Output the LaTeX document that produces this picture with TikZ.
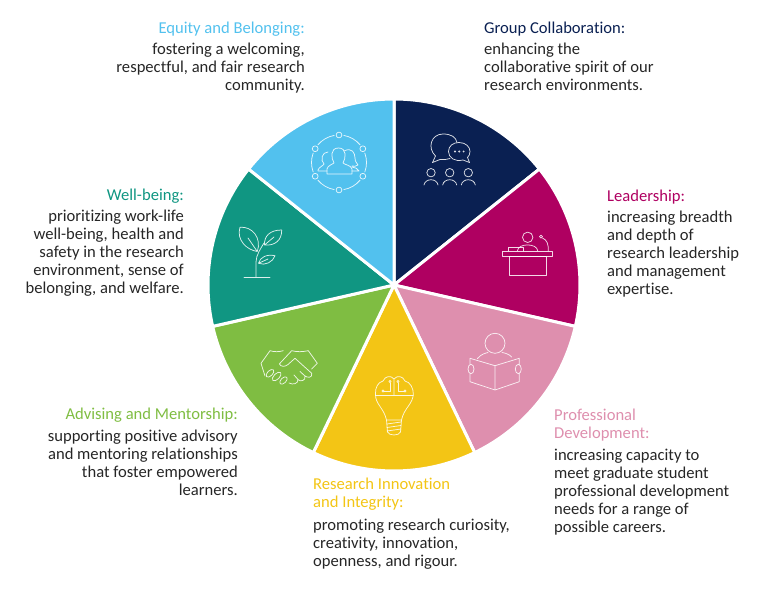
\documentclass[tikz,border=0pt]{standalone}
\usepackage{fontspec}
\setmainfont[Ligatures=NoCommon]{Carlito}
\usepackage{color}
\definecolor{equitycol}{HTML}{52C1EE}
\definecolor{groupcol}{HTML}{0A2052}
\definecolor{leadcol}{HTML}{AF0061}
\definecolor{devcol}{HTML}{DE8FAE}
\definecolor{researchcol}{HTML}{F3C515}
\definecolor{advisecol}{HTML}{7FBD42}
\definecolor{wellcol}{HTML}{109682}
\definecolor{bodycol}{HTML}{262626}
\tikzset{
  blocktext/.style={inner sep=0pt,text=bodycol,font=\fontsize{16.6}{18}\selectfont},
  lefttext/.style={blocktext,align=left,anchor=north west},
  righttext/.style={blocktext,align=right,anchor=north east},
  iconline/.style={draw=white,line width=0.75pt,opacity=0.85,line join=round,line cap=round}
}
\begin{document}
\begin{tikzpicture}[x=1pt,y=-1pt]
\useasboundingbox (0,0) rectangle (768,594);
\foreach \k/\col in {0/groupcol,1/leadcol,2/devcol,3/researchcol,4/advisecol,5/wellcol,6/equitycol}{
  \pgfmathsetmacro{\aone}{-90+\k*360/7}
  \pgfmathsetmacro{\atwo}{-90+(\k+1)*360/7}
  \fill[\col,draw=white,line width=3pt,line join=bevel] (394,285) -- ([shift={(394,285)}]\aone:186) arc[start angle=\aone,end angle=\atwo,radius=186] -- cycle;
}
% texts
\node[righttext] (equity) at (305,22) {\textcolor{equitycol}{Equity and Belonging:}\\[3pt]
  fostering a welcoming,\\respectful, and fair research\\community.};
\node[lefttext] (group) at (484,22) {\textcolor{groupcol}{Group Collaboration:}\\[3pt]
  enhancing the\\collaborative spirit of our\\research environments.};
\node[lefttext] (lead) at (607,190) {\textcolor{leadcol}{Leadership:}\\[3pt]
  increasing breadth\\and depth of\\research leadership\\and management\\expertise.};
\node[lefttext] (dev) at (554,409) {\textcolor{devcol}{Professional}\\\textcolor{devcol}{Development:}\\[4pt]
  increasing capacity to\\meet graduate student\\professional development\\needs for a range of\\possible careers.};
\node[lefttext] (research) at (313,478) {\textcolor{researchcol}{Research Innovation}\\\textcolor{researchcol}{and Integrity:}\\[5pt]
  promoting research curiosity,\\creativity, innovation,\\openness, and rigour.};
\node[righttext] (advise) at (238,408) {\textcolor{advisecol}{Advising and Mentorship:}\\[4pt]
  supporting positive advisory\\and mentoring relationships\\that foster empowered\\learners.};
\node[righttext] (well) at (184,189) {\textcolor{wellcol}{Well-being:}\\[3pt]
  prioritizing work-life\\well-being, health and\\safety in the research\\environment, sense of\\belonging, and welfare.};
% equity icon
\foreach \a in {-90,-30,30,90,150,210}{
  \draw[iconline] ([shift={(339,162.5)}]\a:27.5) circle (2.9);
  \pgfmathsetmacro{\bone}{\a+10}
  \pgfmathsetmacro{\btwo}{\a+50}
  \draw[iconline] ([shift={(339,162.5)}]\bone:27.5) arc[start angle=\bone,end angle=\btwo,radius=27.5];
}
\draw[iconline] (327,174) -- (327,169) .. controls (328,165) and (332,165) .. (334,163) .. controls (331,158) and (330,148) .. (338.5,148) .. controls (347,148) and (346,158) .. (343,163) .. controls (345,165) and (351,165) .. (352,169) -- (352,174) -- cycle;
\draw[iconline] (328,152) .. controls (322,152) and (320,160) .. (324,164) .. controls (323,166) and (319,167) .. (318,170) -- (318,171) -- (327,171);
\draw[iconline] (344,151) .. controls (352,147) and (355,153) .. (355,158) .. controls (355,162) and (357,163) .. (358,165) .. controls (356,167) and (354,166) .. (352,166) (352,167) .. controls (355,168) and (358,168) .. (359,171) -- (352,171);
% group icon
\draw[iconline] (435.5,156) .. controls (427,148) and (431,134) .. (443,134) .. controls (451,134) and (456,137) .. (457,142.5) (450,158.5) .. controls (446,159.5) and (443,160) .. (440,159.5) -- (432.5,162.5) -- (435.5,156);
\draw[iconline] (463,160) .. controls (455,162) and (448.5,158) .. (448.5,151.5) .. controls (448.5,146) and (453,142.5) .. (459,142.5) .. controls (466,142.5) and (470,147) .. (470,151.5) .. controls (470,154) and (469,156) .. (467.5,157.5) -- (469.5,162.5) -- cycle;
\foreach \x in {455,459.3,463.6}{\fill[white,opacity=0.85] (\x,151.5) circle (1.1);}
\foreach \x in {431,449.7,468.3}{
  \draw[iconline] (\x,172.7) circle (4.2);
  \draw[iconline] (\x-7,185) .. controls (\x-6,178) and (\x+6,178) .. (\x+7,185);
}
% leadership icon
\draw[iconline] (527.7,237.3) circle (5.2);
\draw[iconline] (517.5,250.7) .. controls (518,243) and (537,243) .. (537.7,250.7);
\draw[iconline] (502.7,251) rectangle (552.7,256.7);
\draw[iconline] (509.3,256.7) rectangle (546,275);
\draw[iconline] (508.3,251) -- (508.3,247.5) -- (523.3,247.5) -- (523.3,251);
\draw[iconline] (541,236.7) circle (1.5);
\draw[iconline] (542.5,238) .. controls (547,240) and (548.5,244) .. (548.3,251);
% dev icon
\draw[iconline] (495,343.3) circle (10);
\draw[iconline] (477.5,358.5) .. controls (481,354) and (486,353) .. (488,352.5) (502,352.5) .. controls (505,353) and (509,354) .. (511.7,357);
\draw[iconline] (495,365.7) -- (470,358.3) -- (470,364.5) (470,373.5) -- (470,381.7) -- (495,390) -- (519.3,381.7) -- (519.3,373.5) (519.3,364.5) -- (519.3,358.3) -- (495,365.7) -- (495,390);
\draw[iconline] (471,369) ellipse (3 and 4.7);
\draw[iconline] (518.3,369) ellipse (3 and 4.7);
% bulb icon
\draw[iconline] (394,379) .. controls (391,375) and (385,376) .. (383,381) .. controls (378,382) and (375,388) .. (375.5,394) .. controls (375,404) and (384,408) .. (386.5,420) -- (401.5,420) .. controls (404,408) and (413,404) .. (413.3,394) .. controls (413.5,388) and (410,382) .. (405,381) .. controls (403,376) and (397,375) .. (394,379) -- (394,395);
\draw[iconline] (375.5,395) -- (413.3,395);
\draw[iconline] (386.5,420) -- (387.5,432) .. controls (389,436) and (399,436) .. (400.5,432) -- (401.5,420);
\foreach \y in {423,426.5,430}{\draw[iconline] (387,\y+1) -- (401,\y-1);}
\draw[iconline] (384,391) -- (390,391) -- (390,383);
\draw[iconline] (404,391) -- (398,391) -- (398,383);
\foreach \x/\y in {383/391,390/381.5,405/391,398/381.5}{\draw[iconline] (\x,\y) circle (1.1);}
% plant icon
\draw[iconline] (244,277.3) -- (270,277.3);
\draw[iconline] (256,277) -- (256,262) .. controls (256,255) and (261,248) .. (264,243);
\draw[iconline] (257.3,251.5) .. controls (247,250) and (236,240) .. (240,227.3) .. controls (252,226) and (262,238) .. (257.3,251.5) -- (248,238);
\draw[iconline] (264.5,245) .. controls (264,236) and (270,230) .. (281.7,230) .. controls (282,240) and (275,246) .. (264.5,245) -- (274,237);
\draw[iconline] (258.5,263.3) .. controls (260,257) and (267,254) .. (275,255.7) .. controls (273,262) and (265,266) .. (258.5,263.3) -- (268,259);
% handshake icon
\draw[iconline] (265,376) -- (261,363.3) -- (270,350.7) .. controls (274,352) and (279,352) .. (283.3,350.7);
\draw[iconline] (311.7,369) -- (317.3,363.3) -- (308.3,350.7) .. controls (302,352) and (297,352) .. (291.7,350.7) -- (279.3,364) .. controls (281,367) and (285,367) .. (288,364.5) -- (295,358.3) -- (311.7,373.3);
\draw[iconline] (311.7,373.3) .. controls (313,378) and (307,378) .. (305,376) -- (300,371.5) (305,376) .. controls (306,381) and (300,382) .. (298,379.5) -- (294,375) (298,379.5) .. controls (298,384) and (293,385) .. (289,383);
\draw[iconline,rotate around={45:(270,373.3)}] (270,373.3) ellipse (4.8 and 2.6);
\draw[iconline,rotate around={45:(276.7,376.5)}] (276.7,376.5) ellipse (5.5 and 2.8);
\draw[iconline,rotate around={45:(283.5,380.5)}] (283.5,380.5) ellipse (4.6 and 2.6);
\end{tikzpicture}
\end{document}
